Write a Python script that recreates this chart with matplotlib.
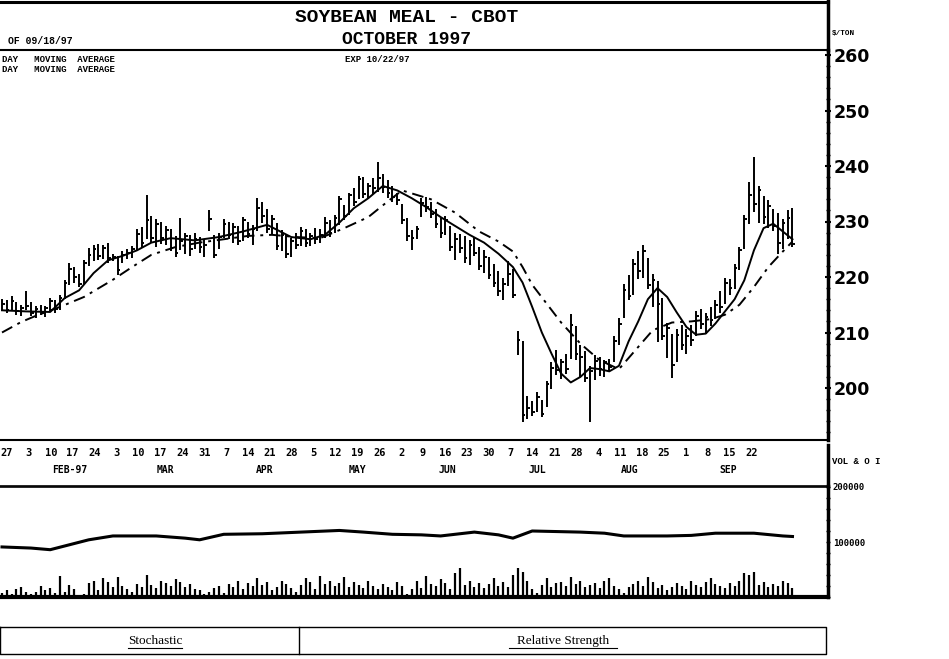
import matplotlib
matplotlib.use("Agg")
import matplotlib.pyplot as plt
from matplotlib.ticker import MultipleLocator, FixedLocator
import numpy as np

# ---------------- data ----------------
highs = [216.0,215.8,216.5,215.5,215.0,217.5,215.5,214.8,215.0,214.8,
         216.2,215.8,216.8,219.5,222.6,221.8,220.5,223.0,225.2,225.8,
         226.0,225.8,226.2,224.2,223.8,224.6,225.0,225.6,228.6,229.0,
         234.8,231.0,230.5,230.0,229.2,228.6,227.4,230.6,228.0,227.6,
         228.0,227.2,226.8,232.0,227.5,228.0,230.4,230.0,229.8,229.2,
         230.8,230.0,229.4,234.2,233.6,232.2,231.2,229.8,228.4,227.8,
         227.0,228.0,229.0,228.6,228.0,228.8,228.6,230.8,230.2,231.2,
         234.6,233.0,235.2,236.0,238.2,238.0,237.0,237.8,240.8,238.6,
         237.4,236.4,235.2,233.2,230.6,228.4,229.2,234.2,234.4,233.6,
         232.2,230.6,231.0,229.2,228.0,227.8,227.4,226.6,227.2,225.4,
         224.8,223.6,222.4,221.0,219.8,222.8,221.4,210.2,208.4,198.6,
         197.6,199.2,197.8,201.2,204.6,206.8,205.2,206.2,213.4,211.2,
         207.8,206.6,204.0,206.0,205.6,205.0,205.2,209.4,212.6,218.8,
         220.4,223.2,224.6,225.8,223.4,220.6,219.2,216.2,211.8,209.8,
         210.6,211.4,210.6,211.4,213.8,214.2,213.6,214.6,215.8,217.4,
         219.8,219.6,222.4,225.4,231.2,237.2,241.6,236.4,234.6,233.8,
         232.2,231.6,230.4,232.0,232.4]
lows = [213.8,213.5,214.0,213.2,213.0,214.0,213.0,212.6,213.2,212.8,
        213.8,213.6,214.0,216.0,218.5,219.0,218.2,218.8,222.0,222.8,
        223.0,223.2,222.5,222.8,220.4,222.6,223.2,223.4,224.6,225.2,
        226.8,226.2,225.4,226.0,225.8,224.6,223.6,224.8,224.2,223.8,
        225.0,224.4,223.6,228.2,223.5,225.0,227.0,226.8,226.2,225.8,
        226.4,227.0,225.8,228.2,229.8,228.0,227.8,224.8,224.6,223.4,
        223.6,225.0,225.6,225.4,225.6,226.0,226.2,227.0,227.2,228.0,
        229.4,230.2,231.2,232.8,234.0,234.2,234.0,235.0,235.4,235.2,
        234.2,233.6,233.0,229.6,226.4,224.8,226.8,230.8,231.8,230.6,
        228.8,227.0,227.6,224.6,223.0,224.4,222.6,222.2,223.8,221.2,
        220.8,219.6,218.2,216.6,215.8,218.4,216.2,206.0,193.8,194.4,
        195.0,195.6,194.8,196.6,199.8,202.4,201.6,202.6,205.2,205.0,
        202.0,201.0,193.8,201.4,202.2,202.0,202.8,204.6,207.8,212.6,
        215.8,216.8,219.6,219.8,217.8,214.6,208.2,208.6,205.4,201.8,
        204.6,206.8,206.2,207.6,209.4,210.6,209.8,211.2,212.4,213.6,
        215.2,216.8,217.8,221.2,225.0,229.6,231.8,229.8,229.6,228.8,
        228.2,224.2,225.0,226.8,225.4]
closes = [215.2,214.0,215.6,213.8,214.5,214.8,213.6,214.2,213.5,214.4,
          215.6,214.2,216.2,219.0,221.5,220.0,218.8,222.6,224.0,225.0,
          223.8,225.2,223.4,223.6,221.2,224.0,224.4,225.0,227.8,226.2,
          230.2,227.0,229.6,227.0,228.4,225.2,224.4,226.4,227.4,225.0,
          226.8,225.4,225.8,230.5,224.0,227.2,229.6,227.6,229.0,226.4,
          230.2,227.8,228.6,232.4,231.0,228.6,230.4,225.6,227.6,224.2,
          226.4,225.8,228.2,226.2,227.4,226.8,227.6,229.8,228.0,230.6,
          234.0,231.0,234.8,233.6,237.6,235.0,236.4,236.0,237.8,236.2,
          235.2,234.4,233.8,230.2,227.4,227.0,228.6,233.4,232.6,231.4,
          229.6,228.0,230.2,225.4,226.8,225.2,223.4,225.8,224.4,222.0,
          223.6,220.4,219.0,217.4,218.8,220.6,216.8,208.6,195.2,196.4,
          195.6,198.4,195.4,200.8,203.6,203.2,204.6,203.4,211.4,206.2,
          205.6,201.8,203.0,204.8,203.4,204.6,203.8,208.4,211.6,217.6,
          216.6,222.4,221.0,224.6,218.6,219.4,215.2,209.4,210.8,204.2,
          209.6,207.8,209.4,208.6,213.0,211.6,212.8,212.2,215.0,214.6,
          219.0,218.0,221.6,224.8,230.4,234.8,233.2,235.6,230.8,232.8,
          229.2,226.2,229.8,230.6,226.0]

# short moving average (solid), read at selected bars
ma_short_idx = [0, 5, 10, 13, 16, 19, 22, 25, 28, 31, 35, 40, 45, 50, 55, 60, 64, 67,
                70, 73, 76, 79, 82, 85, 88, 91, 94, 97, 100, 103, 106, 108, 110, 112,
                114, 116, 118, 120, 122, 124, 126, 128, 130, 132, 134, 136, 138, 140,
                142, 144, 146, 148, 150, 152, 154, 156, 158, 160, 162, 164]
ma_short_val = [214.0, 213.8, 213.7, 216.2, 217.6, 220.7, 223.0, 223.8, 224.8, 226.2,
                227.0, 226.6, 227.2, 228.2, 229.4, 227.2, 226.8, 227.6, 229.8, 232.4,
                234.2, 236.4, 235.6, 234.2, 232.6, 230.8, 229.2, 227.6, 226.2, 224.2,
                221.8, 219.0, 214.6, 210.0, 206.2, 202.6, 201.0, 202.0, 203.6, 203.4,
                203.0, 204.0, 208.4, 212.0, 216.0, 218.0, 216.4, 213.6, 211.0, 209.6,
                209.8, 211.6, 213.8, 216.0, 219.4, 224.8, 228.8, 229.6, 228.2, 226.8]

# long moving average (dash-dot), read at selected bars
ma_long_idx = [0, 4, 7, 12, 17, 23, 27, 31, 36, 41, 46, 51, 56, 61, 66, 71, 76, 80,
               83, 89, 94, 99, 103, 106, 108, 110, 113, 116, 120, 124, 128, 131, 135,
               139, 143, 147, 150, 153, 156, 159, 162, 164]
ma_long_val = [210.0, 211.9, 213.0, 214.6, 216.4, 219.5, 221.8, 224.0, 225.4, 226.2,
               226.8, 227.4, 227.6, 227.2, 227.0, 228.8, 230.8, 233.6, 235.6, 234.0,
               231.6, 228.2, 226.4, 224.6, 221.8, 218.6, 215.2, 211.8, 208.0, 205.0,
               203.4, 206.4, 210.4, 211.8, 212.0, 212.4, 213.2, 215.0, 218.2, 221.8,
               224.6, 226.4]

# volume (thousands)
volume = [8,12,6,14,18,10,6,9,20,12,
          16,8,38,10,22,14,4,6,26,30,
          12,34,28,18,36,20,14,10,24,18,
          40,22,16,30,26,20,32,28,18,24,
          14,12,6,10,16,20,8,24,18,30,
          14,26,20,34,22,28,12,18,30,24,
          16,10,22,34,28,14,38,24,30,20,
          26,36,18,28,22,16,30,20,14,24,
          18,12,28,20,6,14,30,16,38,24,
          20,32,26,14,44,52,22,30,18,26,
          16,24,34,20,28,18,40,52,46,30,
          14,8,22,34,18,26,28,20,36,24,
          30,18,22,26,16,30,34,20,14,8,
          18,24,30,20,36,28,16,22,12,18,
          26,20,14,30,22,18,28,34,24,20,
          16,26,20,30,44,40,46,22,28,18,
          24,20,30,26,16]

# open interest (thousands), read at selected bars
oi_idx = [0, 6, 10, 14, 18, 23, 32, 38, 41, 46, 54, 62, 70, 75, 81, 87, 91, 98,
          103, 106, 110, 120, 125, 129, 138, 143, 148, 156, 162, 164]
oi_val = [91, 89, 86, 95, 104, 111, 111, 107, 104, 114, 115, 118, 121, 118, 114, 113,
          111, 118, 113, 107, 120, 118, 116, 111, 111, 112, 116, 116, 111, 110]

price_ticks = [200, 210, 220, 230, 240, 250, 260]
day_labels = ["27","3","10","17","24","3","10","17","24","31","7","14","21","28",
              "5","12","19","26","2","9","16","23","30","7","14","21","28",
              "4","11","18","25","1","8","15","22"]
month_labels = ["FEB-97", "MAR", "APR", "MAY", "JUN", "JUL", "AUG", "SEP"]

# ---------------- layout ----------------
W, H = 949, 659
fig = plt.figure(figsize=(W / 100, H / 100), dpi=100)
fig.patch.set_facecolor("white")

def box(x0, y0, x1, y1):
    return [x0 / W, 1 - y1 / H, (x1 - x0) / W, (y1 - y0) / H]

def T(x, y, s, **kw):
    fig.text(x / W, 1 - y / H, s, **kw)

PX0, DPX = 2.0, 4.82          # pixel of first bar, pixels per bar
RIGHT = 828
xlim = (-PX0 / DPX, (RIGHT - PX0) / DPX)
n = len(closes)
idx = np.arange(n)

# price panel
axp = fig.add_axes(box(0, 50, RIGHT, 440))
axp.set_xlim(*xlim)
axp.set_ylim(260 - (440 - 55) / 5.55, 260 + 5 / 5.55)
axp.vlines(idx, lows, highs, color="black", lw=1.4)
axp.hlines(closes, idx, idx + 0.55, color="black", lw=1.4)
axp.plot(ma_short_idx, ma_short_val, color="black", lw=1.4)
axp.plot(ma_long_idx, ma_long_val, color="black", lw=1.4,
         linestyle=(0, (6, 3, 1.5, 3)))
for s in ["left", "top", "bottom"]:
    axp.spines[s].set_visible(False)
axp.spines["right"].set_linewidth(2.5)
axp.yaxis.tick_right()
axp.yaxis.set_major_locator(FixedLocator(price_ticks))
axp.yaxis.set_minor_locator(MultipleLocator(2))
axp.set_yticklabels([str(v) for v in price_ticks], fontsize=12.5,
                    fontweight="bold", family="DejaVu Sans")
axp.tick_params(axis="y", which="major", direction="inout", length=4, width=1.5, pad=2)
axp.tick_params(axis="y", which="minor", direction="inout", length=3, width=1)
axp.set_xticks([])

# date axis panel
axd = fig.add_axes(box(0, 440, RIGHT, 486))
axd.set_xlim(0, RIGHT)
axd.set_ylim(486, 440)
axd.axis("off")
for k, lab in enumerate(day_labels):
    axd.text(7 + 21.9 * k, 453, lab, ha="center", va="center", fontsize=7.5,
             fontweight="bold", family="DejaVu Sans Mono")
month_pos = [70, 165, 265, 357, 447, 537, 630, 728]
for px, lab in zip(month_pos, month_labels):
    axd.text(px, 470, lab, ha="center", va="center", fontsize=7,
             fontweight="bold", family="DejaVu Sans Mono")

# volume / open interest panel
axv = fig.add_axes(box(0, 486, RIGHT, 597))
axv.set_xlim(*xlim)
axv.set_ylim(0, (597 - 486) / 0.55)
axv.vlines(idx, 0, volume, color="black", lw=1.6)
axv.plot(oi_idx, oi_val, color="black", lw=2.2)
axv.axhline(200, color="black", lw=1.2)
for s in ["left", "top"]:
    axv.spines[s].set_visible(False)
axv.spines["bottom"].set_linewidth(3)
axv.spines["right"].set_linewidth(2.5)
axv.set_xticks([])
axv.yaxis.tick_right()
axv.yaxis.set_major_locator(FixedLocator([100, 200]))
axv.yaxis.set_minor_locator(MultipleLocator(20))
axv.set_yticklabels(["100000", "200000"], fontsize=6.5, fontweight="bold",
                    family="DejaVu Sans Mono")
axv.tick_params(axis="y", which="major", direction="inout", length=3, width=1, pad=2)
axv.tick_params(axis="y", which="minor", direction="inout", length=3, width=1)

# frame / overlay
axf = fig.add_axes([0, 0, 1, 1])
axf.set_xlim(0, W)
axf.set_ylim(H, 0)
axf.axis("off")
axf.patch.set_alpha(0)
axf.plot([0, RIGHT], [2, 2], color="black", lw=2.2)
axf.plot([0, RIGHT], [50, 50], color="black", lw=1.5)
axf.plot([0, RIGHT - 2], [440, 440], color="black", lw=1.5)
axf.plot([0, RIGHT], [486, 486], color="black", lw=1.2)
axf.plot([RIGHT, RIGHT], [0, 50], color="black", lw=2.5)
axf.plot([RIGHT, RIGHT], [445, 486], color="black", lw=2.5)

# bottom indicator boxes
axf.plot([0, 826, 826, 0, 0], [627, 627, 654, 654, 627], color="black", lw=1.0)
axf.plot([299, 299], [627, 654], color="black", lw=1.0)
axf.text(155, 641, "Stochastic", ha="center", va="center", fontsize=9.5,
         family="Liberation Serif")
axf.plot([128, 182], [648, 648], color="black", lw=0.8)
axf.text(563, 641, "Relative Strength", ha="center", va="center", fontsize=9.5,
         family="Liberation Serif")
axf.plot([509, 617], [648, 648], color="black", lw=0.8)

# header texts
T(407, 17, "SOYBEAN MEAL - CBOT", ha="center", va="center", fontsize=14,
  fontweight="bold", family="Liberation Mono")
T(407, 40, "OCTOBER 1997", ha="center", va="center", fontsize=13,
  fontweight="bold", family="Liberation Mono")
T(8, 41, "OF 09/18/97", ha="left", va="center", fontsize=7,
  fontweight="bold", family="Liberation Mono")
T(2, 59, "DAY   MOVING  AVERAGE", ha="left", va="center", fontsize=6.5,
  fontweight="bold", family="Liberation Mono")
T(2, 69, "DAY   MOVING  AVERAGE", ha="left", va="center", fontsize=6.5,
  fontweight="bold", family="Liberation Mono")
T(345, 59, "EXP 10/22/97", ha="left", va="center", fontsize=6.5,
  fontweight="bold", family="Liberation Mono")
T(832, 33, "$/TON", ha="left", va="center", fontsize=5.5,
  fontweight="bold", family="Liberation Mono")
T(832, 462, "VOL & O I", ha="left", va="center", fontsize=6.5,
  fontweight="bold", family="Liberation Mono")

fig.savefig("out.png", dpi=100, facecolor="white")
